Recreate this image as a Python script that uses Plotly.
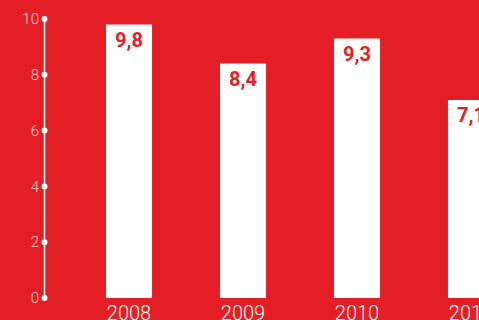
import plotly.graph_objects as go

# Data
years = ["2008", "2009", "2010", "2011"]
values = [9.8, 8.4, 9.3, 7.1]
value_labels = ["9,8", "8,4", "9,3", "7,1"]
y_ticks = [0, 2, 4, 6, 8, 10]

RED = "#E31E24"
W, H = 479, 320
AXIS_X = -0.741  # data x where the vertical axis line sits

xpos = list(range(len(years)))

fig = go.Figure()

fig.add_trace(go.Bar(
    x=xpos,
    y=values,
    width=0.404,
    marker=dict(color="white", line=dict(width=0)),
    text=value_labels,
    textposition="inside",
    insidetextanchor="end",
    textangle=0,
    constraintext="none",
    insidetextfont=dict(family="Roboto", size=20, color=RED, weight=700),
    hoverinfo="skip",
))

# vertical axis line with dots at each tick
fig.add_trace(go.Scatter(
    x=[AXIS_X] * len(y_ticks),
    y=y_ticks,
    mode="lines+markers",
    line=dict(color="white", width=1.5),
    marker=dict(color="white", size=6),
    cliponaxis=False,
    hoverinfo="skip",
))

fig.update_layout(
    width=W, height=H,
    margin=dict(l=0, r=0, t=0, b=22),
    paper_bgcolor=RED,
    plot_bgcolor=RED,
    showlegend=False,
    xaxis=dict(
        range=[-1.1316, 3.0702],
        tickvals=xpos,
        ticktext=years,
        showgrid=False, zeroline=False, showline=False,
        ticks="",
        automargin=False,
        ticklabeloverflow="allow",
        tickfont=dict(family="Roboto", size=20, color="white", weight=300),
        ticklabelstandoff=1,
    ),
    yaxis=dict(
        range=[0, 10.68],
        tickvals=y_ticks,
        showgrid=False, zeroline=False, showline=False,
        ticks="",
        automargin=False,
        anchor="free",
        position=46 / W,
        tickfont=dict(family="Roboto", size=15, color="rgba(255,255,255,0.82)", weight=300),
        ticklabelstandoff=7,
    ),
)

fig.write_html("out.html")
